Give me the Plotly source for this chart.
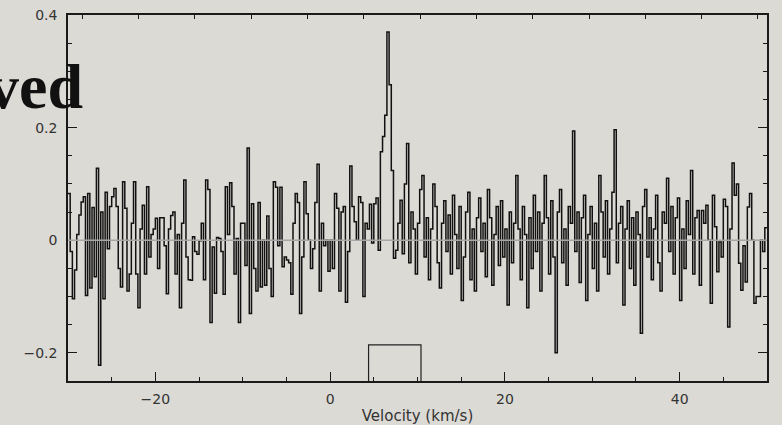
import numpy as np
import plotly.graph_objects as go

# Spectrum: antenna temperature (K) per channel, channels 0.25 km/s wide from -30 km/s
v_start = -30.0
chan_width = 0.25
flux = [
    0.083, -0.02, -0.104, -0.053, 0.01, 0.045, 0.068, 0.077, -0.098, 0.083,
    -0.085, 0.058, -0.065, 0.128, -0.222, 0.05, -0.104, 0.085, -0.015, 0.06,
    0.077, 0.092, 0.06, -0.05, -0.083, 0.104, 0.057, -0.09, -0.06, 0.03,
    0.104, -0.06, -0.12, 0.02, 0.062, -0.06, 0.095, -0.03, 0.01, 0.02,
    0.039, -0.05, 0.04, 0.04, -0.01, -0.095, 0.02, 0.044, 0.05, -0.06,
    0.01, -0.12, 0.03, 0.107, -0.03, -0.07, -0.071, 0.006, -0.02, -0.025,
    -0.001, 0.03, -0.07, 0.107, 0.09, -0.146, -0.012, -0.094, 0.005, 0.003,
    -0.02, -0.096, 0.095, 0.01, 0.102, 0.06, -0.06, 0.003, -0.146, 0.03,
    0.03, -0.045, 0.164, -0.13, 0.065, -0.05, -0.09, 0.067, -0.083, 0.0,
    -0.08, 0.043, -0.05, -0.1, 0.104, 0.094, -0.01, 0.094, -0.047, -0.03,
    -0.035, -0.04, -0.096, 0.03, 0.083, 0.067, -0.13, -0.03, 0.104, 0.047,
    0.0, -0.05, -0.015, 0.067, 0.135, -0.09, 0.03, -0.01, 0.0, -0.055,
    0.0, -0.05, 0.083, 0.057, -0.09, 0.05, 0.06, -0.11, -0.02, 0.132,
    0.06, 0.033, 0.0, 0.077, 0.067, -0.1, 0.03, 0.02, 0.064, -0.005,
    0.065, 0.075, -0.018, 0.157, 0.184, 0.222, 0.370, 0.276, 0.124, -0.032,
    -0.018, 0.03, 0.071, -0.024, 0.1, 0.172, -0.04, 0.05, 0.02, -0.06,
    0.03, 0.09, 0.115, -0.03, 0.04, -0.07, 0.02, 0.10, 0.06, -0.04,
    -0.085, 0.03, 0.07, -0.02, 0.045, -0.06, 0.08, 0.01, -0.05, 0.06,
    -0.107, -0.03, 0.05, 0.085, -0.07, 0.02, -0.09, 0.04, 0.075, -0.02,
    0.03, -0.065, 0.09, 0.04, -0.08, 0.01, 0.06, -0.045, 0.07, -0.03,
    0.02, -0.115, 0.05, -0.04, 0.03, 0.115, 0.02, -0.07, 0.06, 0.01,
    -0.12, 0.04, -0.05, 0.08, -0.02, 0.05, -0.09, 0.03, 0.115, 0.04,
    -0.06, 0.07, -0.03, -0.2, 0.05, 0.09, -0.04, 0.02, -0.08, 0.06,
    0.03, 0.194, -0.02, 0.05, -0.075, 0.04, 0.08, -0.107, 0.01, 0.06,
    -0.05, 0.03, -0.09, 0.115, 0.05, -0.03, 0.07, -0.06, 0.02, 0.085,
    0.196, -0.04, 0.03, 0.06, -0.115, 0.02, 0.07, -0.05, 0.04, -0.08,
    0.05, 0.01, -0.165, 0.06, 0.09, -0.03, 0.04, -0.07, 0.02, 0.08,
    -0.04, -0.09, 0.05, 0.03, 0.11, -0.02, 0.06, -0.06, 0.04, 0.075,
    -0.107, 0.02, -0.05, 0.07, 0.01, 0.124, -0.06, 0.04, 0.053, -0.08,
    0.053, 0.03, 0.062, 0.0, -0.112, 0.08, 0.024, -0.056, -0.003, -0.03,
    0.073, 0.06, -0.154, 0.02, 0.137, 0.08, 0.1, -0.041, -0.089, -0.01,
    -0.074, 0.059, 0.083, 0.0, -0.112, -0.1, -0.1, 0.0, -0.02, 0.022,
]

# Line window used for the integrated intensity (km/s) and marker height (K)
window_lo, window_hi = 4.4, 10.4
window_top = -0.186

x_range = [-30, 50]
y_range = [-0.25, 0.4]

edges = v_start + chan_width * np.arange(len(flux) + 1)
flux_steps = flux + [flux[-1]]

ink = "#1a1a1a"
bg = "#dcdad5"
label_font = dict(family="DejaVu Sans", size=14, color="#333333")

fig = go.Figure()
fig.add_trace(go.Scatter(
    x=edges, y=flux_steps, mode="lines",
    line=dict(shape="hv", color="#111111", width=1.5),
    hoverinfo="skip", showlegend=False,
))
fig.add_trace(go.Scatter(
    x=[window_lo, window_lo, window_hi, window_hi],
    y=[y_range[0], window_top, window_top, y_range[0]],
    mode="lines", line=dict(color="#222222", width=1.2),
    hoverinfo="skip", showlegend=False,
))
# Invisible trace so the mirrored top/right frame axes are drawn
fig.add_trace(go.Scatter(x=[None], y=[None], xaxis="x2", yaxis="y2",
                         showlegend=False, hoverinfo="skip"))

fig.add_shape(type="line", xref="paper", yref="y", x0=0, x1=1, y0=0, y1=0,
              line=dict(color="#a6a6a6", width=1.5), layer="above")

axis_common = dict(showgrid=False, zeroline=False, showline=True,
                   linecolor=ink, linewidth=1.5, ticks="inside",
                   tickcolor=ink, tickwidth=1.2, automargin=False)

fig.update_layout(
    width=782, height=425,
    margin=dict(l=68, r=15, t=15, b=44, autoexpand=False),
    paper_bgcolor=bg, plot_bgcolor=bg,
    font=label_font,
    xaxis=dict(range=x_range, dtick=20, tick0=0, ticklen=9,
               minor=dict(dtick=5, ticklen=4, ticks="inside", tickcolor=ink),
               ticklabelstandoff=4, tickfont=label_font,
               title=dict(text="Velocity (km/s)", standoff=13,
                          font=dict(family="DejaVu Sans", size=15,
                                    color="#333333")),
               **axis_common),
    yaxis=dict(range=y_range, dtick=0.2, tick0=0, ticklen=9,
               minor=dict(dtick=0.05, ticklen=4, ticks="inside", tickcolor=ink),
               ticklabelstandoff=6, tickfont=label_font,
               **axis_common),
    xaxis2=dict(overlaying="x", side="top", range=[-0.254, 12.16], dtick=1,
                tick0=0, ticklen=4, showticklabels=False, **axis_common),
    yaxis2=dict(overlaying="y", side="right", range=y_range, dtick=0.2,
                tick0=0, ticklen=9, showticklabels=False,
                minor=dict(dtick=0.05, ticklen=4, ticks="inside", tickcolor=ink),
                **axis_common),
    annotations=[dict(
        text="<b>ved</b>", xref="paper", yref="paper",
        x=0.0245, y=0.805, xanchor="right", yanchor="middle",
        showarrow=False,
        font=dict(family="Liberation Serif", size=64, color="#111111"),
    )],
)

fig.write_html("out.html")
